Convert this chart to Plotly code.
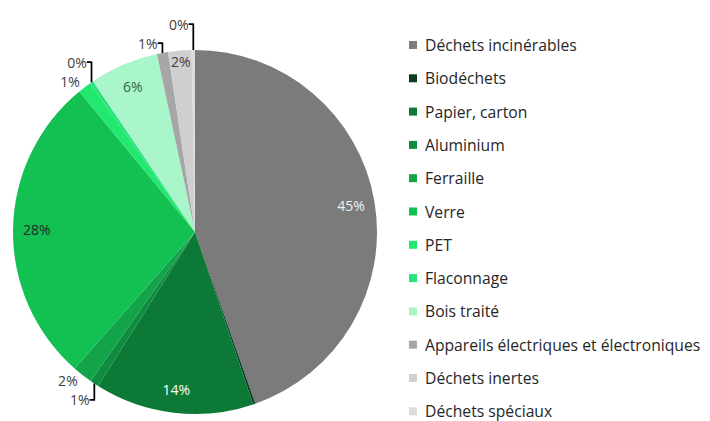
import plotly.graph_objects as go

labels = ["Déchets incinérables", "Biodéchets", "Papier, carton", "Aluminium", "Ferraille",
          "Verre", "PET", "Flaconnage", "Bois traité",
          "Appareils électriques et électroniques", "Déchets inertes", "Déchets spéciaux"]
values = [45.2, 0.2, 14.3, 0.8, 1.8, 27.9, 1.2, 0.3, 6.2, 1.0, 2.1, 0.3]
colors = ["#7b7b7b", "#0c3d22", "#0c7a36", "#0f8c3f", "#13a349", "#12c152",
          "#22e86f", "#28e27c", "#a8f6c9", "#a6a6a6", "#cfcfcf", "#dcdcdc"]
text_pos = ["inside", "none", "inside", "outside", "outside", "inside",
            "outside", "outside", "inside", "outside", "inside", "outside"]
text_col = ["#f2f2f2", "#404040", "#ffffff", "#404040", "#404040", "#262626",
            "#404040", "#404040", "#2e6b47", "#404040", "#404040", "#404040"]

dom = dict(x=[13 / 710, 377 / 710], y=[7 / 421, 371 / 421])

fig = go.Figure()
# the coloured pie itself
fig.add_trace(go.Pie(
    labels=labels, values=values, sort=False, direction="clockwise", rotation=0,
    marker=dict(colors=colors, line=dict(width=0)),
    textinfo="none", domain=dom, automargin=False,
    showlegend=False, hoverinfo="label+percent",
))
# transparent ring on top, only to push the percent labels out towards the rim
fig.add_trace(go.Pie(
    labels=labels, values=values, sort=False, direction="clockwise", rotation=0,
    hole=0.74,
    marker=dict(colors=["rgba(0,0,0,0)"] * len(labels), line=dict(width=0)),
    texttemplate=["" if p == "none" else "%{percent:.0%}" for p in text_pos],
    textposition=["inside" if p == "none" else p for p in text_pos],
    insidetextorientation="horizontal",
    textfont=dict(family="Open Sans", size=14, color=text_col),
    domain=dom, automargin=False,
    showlegend=False, hoverinfo="skip",
))

# legend drawn by hand to match the spacing of the original
y0, step = 45, 33.3
for i, (lab, col) in enumerate(zip(labels, colors)):
    yc = y0 + i * step
    fig.add_shape(type="rect", xref="paper", yref="paper",
                  x0=409 / 710, x1=417 / 710, y0=1 - (yc + 4) / 421, y1=1 - (yc - 4) / 421,
                  fillcolor=col, line=dict(width=0))
    fig.add_annotation(x=423 / 710, y=1 - yc / 421, xref="paper", yref="paper",
                       text=lab, showarrow=False, xanchor="left", yanchor="middle",
                       font=dict(family="Open Sans", size=15.7, color="#262626"))

fig.update_layout(width=710, height=421,
                  margin=dict(l=0, r=0, t=0, b=0, pad=0, autoexpand=False),
                  uniformtext=dict(minsize=14, mode="show"),
                  paper_bgcolor="white", plot_bgcolor="white")
# the page body has a default 8px margin; drop it so the figure sits at 0,0
fig.write_html("out.html", config={"displayModeBar": False},
               post_script="document.body.style.margin='0';")
